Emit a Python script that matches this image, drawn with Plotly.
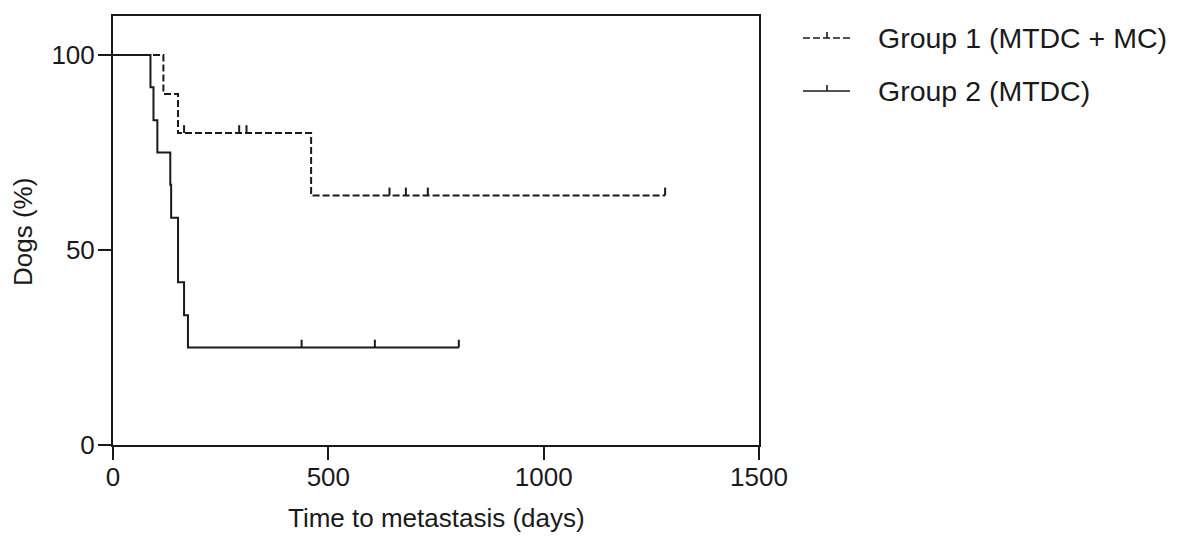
import plotly.graph_objects as go

# ---- data ----
g1_name = "Group 1 (MTDC + MC)"
g1_time = [0, 117, 151, 460, 1282]
g1_surv = [100, 90, 80, 64, 64]
g1_cens_time = [165, 293, 310, 642, 680, 731, 1282]
g1_cens_surv = [80, 80, 80, 64, 64, 64, 64]

g2_name = "Group 2 (MTDC)"
g2_time = [0, 87, 94, 103, 133, 135, 151, 165, 174, 803]
g2_surv = [100, 91.7, 83.3, 75, 66.7, 58.3, 41.7, 33.3, 25, 25]
g2_cens_time = [438, 608, 803]
g2_cens_surv = [25, 25, 25]

x_ticks = [0, 500, 1000, 1500]
y_ticks = [0, 50, 100]

FONT = "Liberation Sans, Arial, Helvetica, sans-serif"
INK = "#1a1a1a"
TICK = 2.0  # censor tick height in % units
DASH = "7px,3px"

# page has an 8px body margin: plot area in page pixels is x 113..759, y 16..445
OFF = 8
L, T, W, H = 113, 16, 646, 429
FIG_W, FIG_H = 1191 - OFF, 538 - OFF

fig = go.Figure()


def add_curve(t, s, ct, cs, dash):
    fig.add_trace(go.Scatter(x=t, y=s, mode="lines", line_shape="hv",
                             line=dict(color=INK, width=2, dash=dash),
                             showlegend=False, hoverinfo="skip"))
    xs, ys = [], []
    for a, b in zip(ct, cs):
        xs += [a, a, None]
        ys += [b, b + TICK, None]
    fig.add_trace(go.Scatter(x=xs, y=ys, mode="lines",
                             line=dict(color=INK, width=2),
                             showlegend=False, hoverinfo="skip"))


add_curve(g1_time, g1_surv, g1_cens_time, g1_cens_surv, DASH)
add_curve(g2_time, g2_surv, g2_cens_time, g2_cens_surv, "solid")


def px(xp):
    return (xp - L) / W


def py(yp):
    return (T + H - yp) / H


# ---- legend drawn in paper coords ----
legend_rows = [(g1_name, DASH, 38), (g2_name, "solid", 91)]
for name, dash, ypix in legend_rows:
    fig.add_shape(type="line", xref="paper", yref="paper",
                  x0=px(803), x1=px(850), y0=py(ypix), y1=py(ypix),
                  line=dict(color=INK, width=1.6, dash=dash))
    fig.add_shape(type="line", xref="paper", yref="paper",
                  x0=px(827), x1=px(827), y0=py(ypix), y1=py(ypix - 6),
                  line=dict(color=INK, width=1.6))
    fig.add_annotation(text=name, xref="paper", yref="paper",
                       x=px(876), y=py(ypix), xanchor="left", yanchor="middle",
                       showarrow=False, font=dict(size=28.5, color=INK, family=FONT))

# axis titles
fig.add_annotation(text="Time to metastasis (days)", xref="paper", yref="paper",
                   x=0.5, y=py(518), xanchor="center", yanchor="middle",
                   showarrow=False, font=dict(size=26, color=INK, family=FONT))
fig.add_annotation(text="Dogs (%)", xref="paper", yref="paper",
                   x=px(23), y=py(232), xanchor="center", yanchor="middle",
                   textangle=-90, showarrow=False,
                   font=dict(size=26, color=INK, family=FONT))

axis_common = dict(showline=True, linecolor=INK, linewidth=2, mirror=True,
                   ticks="outside", ticklen=13, tickwidth=2, tickcolor=INK,
                   showgrid=False, zeroline=False, automargin=False,
                   tickfont=dict(size=26, color=INK, family=FONT))

fig.update_xaxes(range=[0, 1500], tickvals=x_ticks, ticklabelstandoff=-5,
                 **axis_common)
fig.update_yaxes(range=[0, 110], tickvals=y_ticks, ticklabelstandoff=-2,
                 **axis_common)

fig.update_layout(width=FIG_W, height=FIG_H,
                  margin=dict(l=L - OFF, r=FIG_W - (L + W - OFF),
                              t=T - OFF, b=FIG_H - (T + H - OFF)),
                  paper_bgcolor="white", plot_bgcolor="white",
                  font=dict(family=FONT, color=INK))

fig.write_html("out.html")
